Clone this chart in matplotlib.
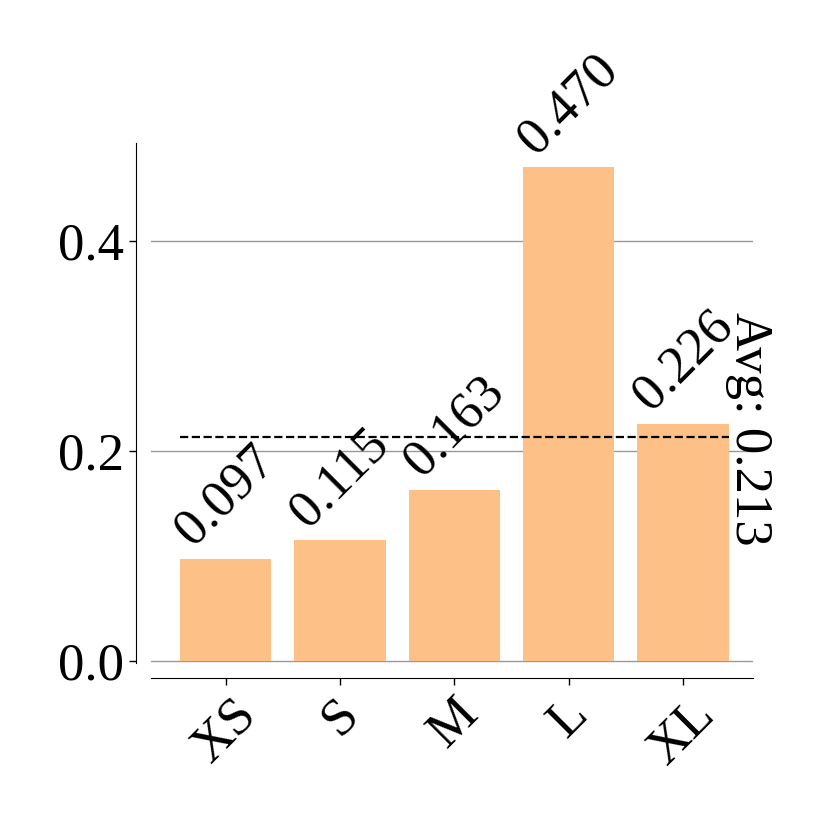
import numpy as np
import matplotlib.pyplot as plt

plt.rcParams['font.family'] = ['Liberation Serif', 'DejaVu Serif']

# datos
tallas = ['XS', 'S', 'M', 'L', 'XL']
valores = [0.097, 0.115, 0.163, 0.470, 0.226]
media = 0.213

fig = plt.figure(figsize=(8.3, 8.3), dpi=100)
ax = fig.add_axes([0.182, 0.2012, 0.725, 0.6265])

# primero los ejes desplazados (set_position reinicia los ticks)
ax.spines['top'].set_visible(False)
ax.spines['right'].set_visible(False)
ax.spines['left'].set_position(('outward', 11))
ax.spines['bottom'].set_position(('outward', 11))

x = np.arange(len(tallas))
ax.bar(x, valores, width=0.8, color='#fdc086', zorder=2)

# etiquetas encima de cada barra
for xi, v in zip(x, valores):
    ax.annotate(f'{v:.3f}', (xi, v), xytext=(0, 3), textcoords='offset points',
                ha='center', va='bottom', rotation=45, fontsize=38)

# linea de la media
ax.hlines(media, -0.4, 4.4, colors='black', linestyles='--', lw=1.6, zorder=3)
ax.annotate(f'Avg: {media:.3f}', (4.37, media), xytext=(0, 6), textcoords='offset points',
            rotation=270, ha='left', va='center', fontsize=38)

ax.set_xlim(-0.652, 4.61)
ax.set_ylim(-0.002, 0.4933)
ax.set_yticks([0.0, 0.2, 0.4])
ax.set_xticks(x)
ax.set_xticklabels(tallas, rotation=45, ha='center')
ax.tick_params(labelsize=38, width=1, length=5)
ax.yaxis.grid(True, color='#999999', lw=1, zorder=0)

fig.savefig('out.png', dpi=100)
